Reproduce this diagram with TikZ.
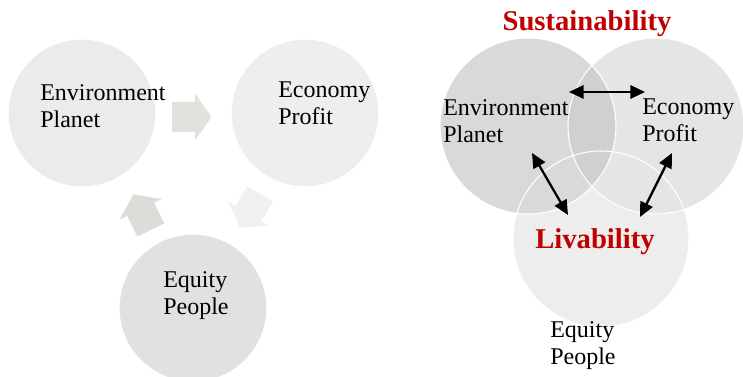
\documentclass[tikz,border=0pt]{standalone}
\usepackage{fontspec}
\setmainfont{Liberation Serif}
\usetikzlibrary{arrows.meta}
\definecolor{envL}{HTML}{EBEBEB}
\definecolor{ecoL}{HTML}{EEEEEE}
\definecolor{equL}{HTML}{E1E1DF}
\definecolor{arrA}{HTML}{E1E1DE}
\definecolor{arrB}{HTML}{F0F0EF}
\definecolor{arrC}{HTML}{DCDCD9}
\definecolor{vA}{HTML}{D9D9D9}
\definecolor{vB}{HTML}{E5E5E5}
\definecolor{vC}{HTML}{EDEDED}
\definecolor{vAB}{HTML}{D0D0D0}
\definecolor{darkred}{HTML}{C00000}
\tikzset{
  lcirc/.style={circle, draw=none, minimum size=110pt, inner sep=0},
  vcirc/.style={circle, draw=none, minimum size=132pt, inner sep=0},
  lbl/.style={font=\fontsize{18}{20.3}\selectfont, align=left, inner sep=0, anchor=base west},
  title/.style={font=\bfseries\fontsize{21.5}{24}\selectfont, text=darkred, inner sep=0, anchor=base},
  dbl/.style={{Triangle[length=11pt,width=10pt]}-{Triangle[length=11pt,width=10pt]}, line width=1.7pt, black}
}
\begin{document}
\begin{tikzpicture}[x=0.75pt,y=-0.75pt]
\useasboundingbox (0,0) rectangle (743,377);

% ---------- left: cycle ----------
\node[lcirc, fill=envL] (env) at (82,113) {};
\node[lcirc, fill=ecoL] (eco) at (305,113) {};
\node[lcirc, fill=equL] (equ) at (193,308) {};

\foreach \cx/\cy/\ang/\col in {192/117/0/arrA, 250/211/-121/arrB, 142/212/116/arrC}{
  \fill[\col, shift={(\cx,\cy)}, rotate=\ang]
    (-20,-15) -- (3,-15) -- (3,-23.5) -- (19.5,0) -- (3,23.5) -- (3,15) -- (-20,15) -- cycle;
}

\node[lbl] (tEnvL) at (40,128) {Environment\\Planet};
\node[lbl] (tEcoL) at (278,125) {Economy\\Profit};
\node[lbl] (tEquL) at (163,315) {Equity\\People};

% ---------- right: Venn ----------
\node[vcirc, fill=vC] (C) at (601,239) {};
\node[vcirc, fill=vA] (A) at (528,126) {};
\node[vcirc, fill=vB] (B) at (656,126) {};
\begin{scope}
  \clip (528,126) circle (66pt);
  \fill[vAB] (656,126) circle (66pt);
\end{scope}
\draw[white, line width=0.8pt] (528,126) circle (66pt);
\draw[white, line width=0.8pt] (656,126) circle (66pt);
\draw[white, line width=0.8pt] (601,239) circle (66pt);

\node[title] (sus) at (587,31) {Sustainability};
\node[title] (liv) at (595,249) {Livability};

\node[lbl] (tEnvR) at (443,143) {Environment\\Planet};
\node[lbl] (tEcoR) at (642,142) {Economy\\Profit};
\node[lbl] (tEquR) at (550,365) {Equity\\People};

\coordinate (h1) at (569,92);
\coordinate (h2) at (645,92);
\coordinate (l1) at (532,153);
\coordinate (l2) at (568,215);
\coordinate (r1) at (672,153);
\coordinate (r2) at (640,217);
\draw[dbl] (h1) -- (h2);
\draw[dbl] (l1) -- (l2);
\draw[dbl] (r1) -- (r2);
\end{tikzpicture}
\end{document}
